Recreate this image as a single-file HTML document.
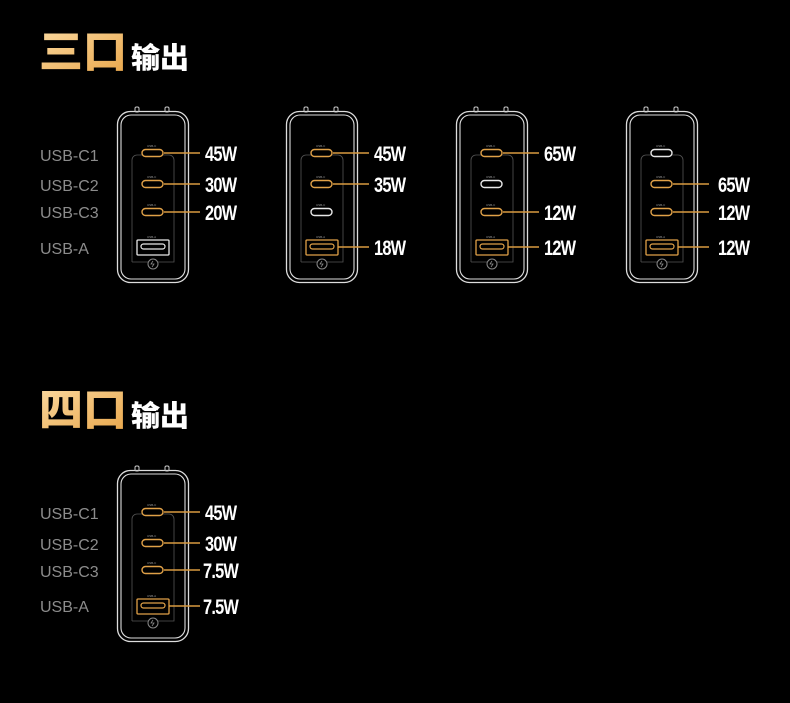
<!DOCTYPE html>
<html><head><meta charset="utf-8"><style>
html,body{margin:0;padding:0;background:#000;width:790px;height:703px;overflow:hidden}
svg{display:block}
.lab{font-family:"Liberation Sans",sans-serif;font-size:16px;fill:#8c8c8c}
.w{font-family:"Liberation Sans",sans-serif;font-weight:bold;font-size:21px;fill:#fff;letter-spacing:-1px}
.t{font-family:"Liberation Sans","Noto Sans CJK SC",sans-serif;font-weight:900}
.s{font-family:"Liberation Sans",sans-serif;font-size:3px;fill:#999}
</style></head><body>
<svg width="790" height="703" viewBox="0 0 790 703" xmlns="http://www.w3.org/2000/svg">
<defs>
<linearGradient id="g" x1="0" y1="0" x2="1" y2="1"><stop offset="0" stop-color="#fbd9a0"/><stop offset="1" stop-color="#e8a548"/></linearGradient>
<g id="body">
<rect x="0.5" y="0.5" width="71" height="171" rx="13" fill="none" stroke="#ddd" stroke-width="1.3"/>
<rect x="4" y="4" width="64" height="164" rx="10" fill="none" stroke="#ddd" stroke-width="1.1"/>
<rect x="18" y="-4" width="4" height="5" rx="1.5" fill="none" stroke="#ccc" stroke-width="1"/>
<rect x="48" y="-4" width="4" height="5" rx="1.5" fill="none" stroke="#ccc" stroke-width="1"/>
<path d="M15 151 V49 a5 5 0 0 1 5 -5 H52 a5 5 0 0 1 5 5 V151 H15" fill="none" stroke="#555" stroke-width="0.8"/>
<circle cx="36" cy="153" r="5" fill="#000" stroke="#888" stroke-width="1"/>
<path d="M36 150 l-2 3 h3 l-2 3" stroke="#888" stroke-width="0.8" fill="none"/>
</g>
<g id="co"><rect x="25" y="-3.5" width="21" height="7" rx="3.5" fill="#000" stroke="#e0a148" stroke-width="1.4"/><text class="s" x="30" y="-6">USB-C</text></g>
<g id="cw"><rect x="25" y="-3.5" width="21" height="7" rx="3.5" fill="#000" stroke="#e8e8e8" stroke-width="1.4"/><text class="s" x="30" y="-6">USB-C</text></g>
<g id="ao"><rect x="20" y="-7" width="32" height="15" rx="1" fill="#000" stroke="#e0a148" stroke-width="1.3"/><rect x="24" y="-3" width="24" height="5" rx="2.5" fill="none" stroke="#e0a148" stroke-width="1.2"/><text class="s" x="30" y="-9">USB-A</text></g>
<g id="aw"><rect x="20" y="-7" width="32" height="15" rx="1" fill="#000" stroke="#e8e8e8" stroke-width="1.3"/><rect x="24" y="-3" width="24" height="5" rx="2.5" fill="none" stroke="#e8e8e8" stroke-width="1.2"/><text class="s" x="30" y="-9">USB-A</text></g>
<line id="lc" x1="47" y1="0" x2="83" y2="0" stroke="#d99a40" stroke-width="1.4"/>
<line id="la" x1="52" y1="0" x2="83" y2="0" stroke="#d99a40" stroke-width="1.4"/>
</defs>

<text class="t" x="39" y="67" font-size="44" fill="url(#g)">三口</text>
<text class="t" x="131" y="68" font-size="29" fill="#fff" font-weight="bold">输出</text>
<text class="t" x="39" y="425" font-size="44" fill="url(#g)">四口</text>
<text class="t" x="131" y="426" font-size="29" fill="#fff" font-weight="bold">输出</text>

<text class="lab" x="40" y="161">USB-C1</text>
<text class="lab" x="40" y="191">USB-C2</text>
<text class="lab" x="40" y="218">USB-C3</text>
<text class="lab" x="40" y="254">USB-A</text>
<text class="lab" x="40" y="519">USB-C1</text>
<text class="lab" x="40" y="550">USB-C2</text>
<text class="lab" x="40" y="577">USB-C3</text>
<text class="lab" x="40" y="612">USB-A</text>

<!-- charger 1 -->
<g transform="translate(117,111)"><use href="#body"/>
<g transform="translate(0,42)"><use href="#lc"/><use href="#co"/><text class="w" transform="translate(88,8) scale(0.78,1)">45W</text></g>
<g transform="translate(0,73)"><use href="#lc"/><use href="#co"/><text class="w" transform="translate(88,8) scale(0.78,1)">30W</text></g>
<g transform="translate(0,101)"><use href="#lc"/><use href="#co"/><text class="w" transform="translate(88,8) scale(0.78,1)">20W</text></g>
<g transform="translate(0,136)"><use href="#aw"/></g>
</g>
<!-- charger 2 -->
<g transform="translate(286,111)"><use href="#body"/>
<g transform="translate(0,42)"><use href="#lc"/><use href="#co"/><text class="w" transform="translate(88,8) scale(0.78,1)">45W</text></g>
<g transform="translate(0,73)"><use href="#lc"/><use href="#co"/><text class="w" transform="translate(88,8) scale(0.78,1)">35W</text></g>
<g transform="translate(0,101)"><use href="#cw"/></g>
<g transform="translate(0,136)"><use href="#la"/><use href="#ao"/><text class="w" transform="translate(88,8) scale(0.78,1)">18W</text></g>
</g>
<!-- charger 3 -->
<g transform="translate(456,111)"><use href="#body"/>
<g transform="translate(0,42)"><use href="#lc"/><use href="#co"/><text class="w" transform="translate(88,8) scale(0.78,1)">65W</text></g>
<g transform="translate(0,73)"><use href="#cw"/></g>
<g transform="translate(0,101)"><use href="#lc"/><use href="#co"/><text class="w" transform="translate(88,8) scale(0.78,1)">12W</text></g>
<g transform="translate(0,136)"><use href="#la"/><use href="#ao"/><text class="w" transform="translate(88,8) scale(0.78,1)">12W</text></g>
</g>
<!-- charger 4 -->
<g transform="translate(626,111)"><use href="#body"/>
<g transform="translate(0,42)"><use href="#cw"/></g>
<g transform="translate(0,73)"><use href="#lc"/><use href="#co"/><text class="w" transform="translate(92,8) scale(0.78,1)">65W</text></g>
<g transform="translate(0,101)"><use href="#lc"/><use href="#co"/><text class="w" transform="translate(92,8) scale(0.78,1)">12W</text></g>
<g transform="translate(0,136)"><use href="#la"/><use href="#ao"/><text class="w" transform="translate(92,8) scale(0.78,1)">12W</text></g>
</g>
<!-- charger 5 -->
<g transform="translate(117,470)"><use href="#body"/>
<g transform="translate(0,42)"><use href="#lc"/><use href="#co"/><text class="w" transform="translate(88,8) scale(0.78,1)">45W</text></g>
<g transform="translate(0,73)"><use href="#lc"/><use href="#co"/><text class="w" transform="translate(88,8) scale(0.78,1)">30W</text></g>
<g transform="translate(0,100)"><use href="#lc"/><use href="#co"/><text class="w" transform="translate(86,8) scale(0.78,1)">7.5W</text></g>
<g transform="translate(0,136)"><use href="#la"/><use href="#ao"/><text class="w" transform="translate(86,8) scale(0.78,1)">7.5W</text></g>
</g>
</svg>
</body></html>
